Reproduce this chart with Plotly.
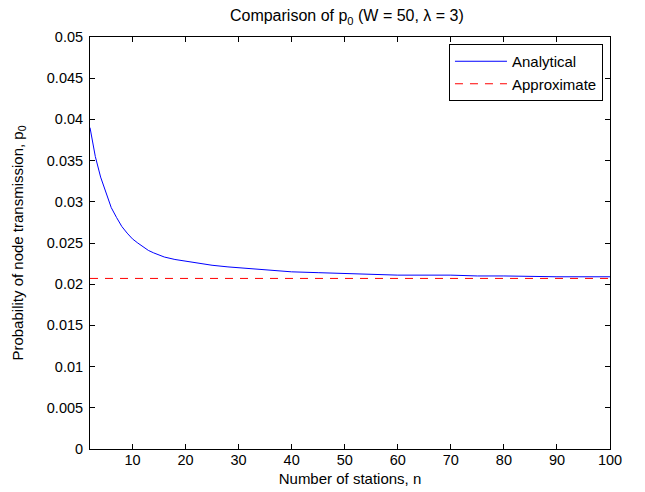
import plotly.graph_objects as go

n_analytical = [2, 3, 4, 5, 6, 7, 8, 9, 10, 11, 12, 13, 14, 15, 16, 18, 20, 22, 25, 28,
                30, 35, 40, 45, 50, 55, 60, 70, 75, 80, 90, 100]
p_analytical = [0.0390, 0.0355, 0.0330, 0.0310, 0.0293, 0.0281, 0.0270, 0.0262, 0.0255,
                0.0250, 0.0245, 0.0241, 0.0238, 0.0235, 0.0233, 0.0230, 0.0228, 0.0226,
                0.0223, 0.0221, 0.0220, 0.0217, 0.0215, 0.0214, 0.0213, 0.0212, 0.0211,
                0.0211, 0.0210, 0.0210, 0.0209, 0.0209]

n_approx = [2, 100]
p_approx = [0.0207, 0.0207]

x_ticks = [10, 20, 30, 40, 50, 60, 70, 80, 90, 100]

font_family = "Liberation Sans, Arial, Helvetica, sans-serif"

fig = go.Figure()
fig.add_trace(go.Scatter(x=n_analytical, y=p_analytical, mode="lines", name="Analytical",
                         line=dict(color="rgb(0,0,255)", width=1)))
fig.add_trace(go.Scatter(x=n_approx, y=p_approx, mode="lines", name="Approximate",
                         line=dict(color="rgb(255,0,0)", width=1, dash="8px,7px")))

axis_common = dict(showgrid=False, zeroline=False, showline=True, linecolor="black",
                   linewidth=1, mirror="ticks", ticks="inside", ticklen=5, automargin=False,
                   tickcolor="black", tickfont=dict(size=14.5, color="black", family=font_family))

# page has an 8px body margin, so the figure is shifted by (8, 8)
fig.update_layout(
    width=637, height=484,
    margin=dict(l=82, r=35, t=29, b=43),
    paper_bgcolor="white", plot_bgcolor="white",
    font=dict(family=font_family, size=15, color="black"),
    title=dict(text="Comparison of p<sub>0</sub> (W = 50, λ = 3)", x=0.532, xanchor="center",
               yref="container", y=0.984, yanchor="middle", font=dict(size=16, color="black")),
    xaxis=dict(range=[2, 100], tickvals=x_ticks, ticklabelstandoff=-2,
               title=dict(text="Number of stations, n", standoff=6,
                          font=dict(size=15)), **axis_common),
    yaxis=dict(range=[0, 0.05], dtick=0.005, tick0=0, ticklabelstandoff=3,
               title=dict(text="Probability of node transmission, p<sub>0</sub>", standoff=19,
                          font=dict(size=15)), **axis_common),
    legend=dict(x=0.9865, y=0.983, xanchor="right", yanchor="top", bgcolor="white",
                bordercolor="black", borderwidth=1, font=dict(size=15),
                tracegroupgap=0, itemwidth=52),
    showlegend=True,
)

fig.write_html("out.html")
